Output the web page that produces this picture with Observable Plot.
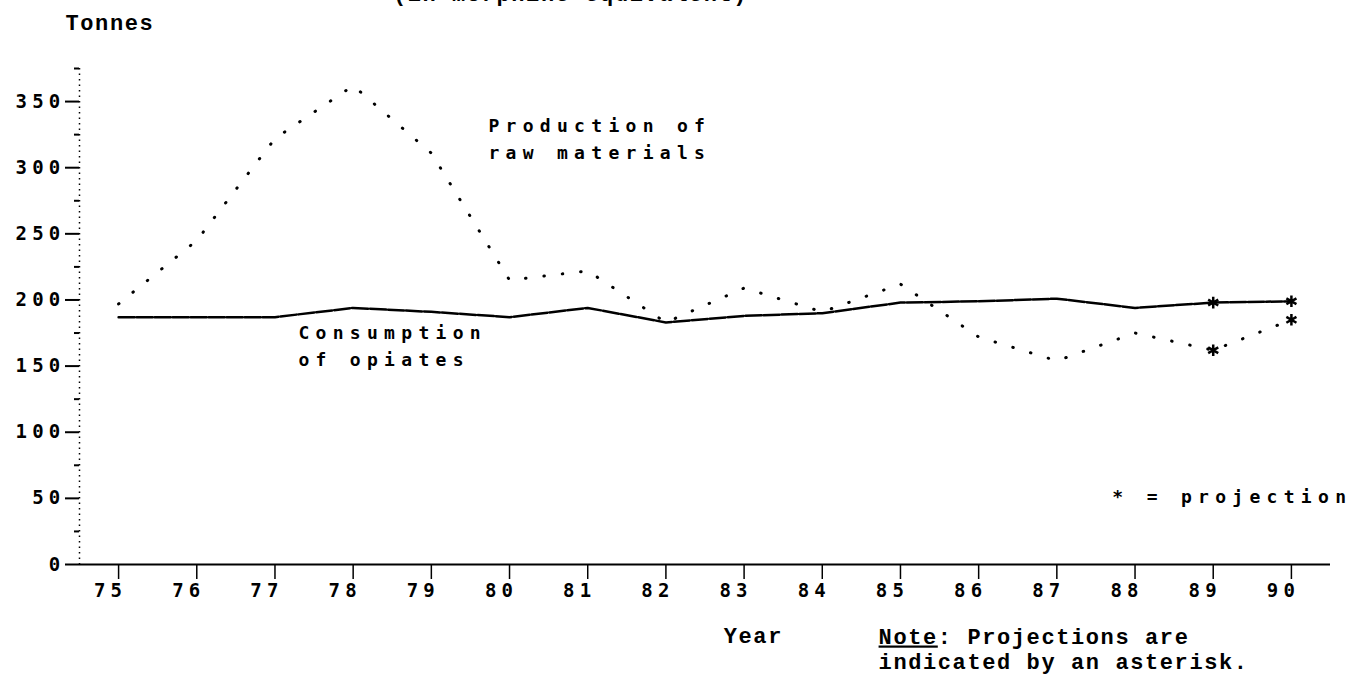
<!DOCTYPE html>
<html>
<head>
<meta charset="utf-8">
<script src="https://cdn.jsdelivr.net/npm/d3@7"></script>
<script src="https://cdn.jsdelivr.net/npm/@observablehq/plot@0.6"></script>
<style>
  body { margin: 0; background: #fff; }
  #chart svg { display: block; }
  g[font-family^="DejaVu Sans Mono"] text { letter-spacing: 5.2px; }
  g[font-family^="DejaVu Sans Mono"][font-size="18"] text { letter-spacing: 6.3px; }
  g[font-family^="Liberation Mono"] text { letter-spacing: 1.6px; }
</style>
</head>
<body>
<div id="chart"></div>
<script>
// Years (19xx)
const years = [75, 76, 77, 78, 79, 80, 81, 82, 83, 84, 85, 86, 87, 88, 89, 90];
// Production of raw materials (tonnes, morphine equivalent)
const production = [197, 245, 322, 362, 311, 215, 222, 183, 209, 191, 212, 172, 154, 175, 162, 185];
// Consumption of opiates (tonnes)
const consumption = [187, 187, 187, 194, 191, 187, 194, 183, 188, 190, 198, 199, 201, 194, 198, 199];
// Projected years (marked by asterisk)
const projectionYears = [89, 90];
// Axis ticks
const yMajorTicks = [0, 50, 100, 150, 200, 250, 300, 350];
const yMinorTicks = [25, 75, 125, 175, 225, 275, 325, 375];
const xTickLabels = years;

const prodRows = years.map((year, i) => ({year, value: production[i]}));
const consRows = years.map((year, i) => ({year, value: consumption[i]}));
const projRows = [
  ...prodRows.filter(d => projectionYears.includes(d.year)),
  ...consRows.filter(d => projectionYears.includes(d.year))
];

const DM = "DejaVu Sans Mono";
const TW = "Liberation Mono";

const chart = Plot.plot({
  width: 1352,
  height: 676,
  marginLeft: 79,
  marginRight: 22,
  marginTop: 68,
  marginBottom: 112,
  x: {domain: [74.5, 90.5], axis: null},
  y: {domain: [0, 375], axis: null},
  style: {background: "white", color: "black", overflow: "visible"},
  marks: [
    // dotted y axis line
    Plot.ruleX([74.5], {strokeDasharray: "1.5,4", strokeWidth: 1.5}),
    Plot.axisY(yMinorTicks, {anchor: "left", tickSize: 5, tickFormat: () => "", strokeWidth: 2, label: null}),
    Plot.axisY(yMajorTicks, {anchor: "left", tickSize: 14, tickPadding: 0, strokeWidth: 2,
      tickFormat: d => String(d), fontFamily: DM, fontSize: 19, fontWeight: "bold", label: null}),
    // baseline
    Plot.ruleY([0], {strokeWidth: 2}),
    Plot.axisX(xTickLabels, {anchor: "bottom", tickSize: 15, tickFormat: () => "", strokeWidth: 1.5, label: null}),
    Plot.axisX(xTickLabels, {anchor: "bottom", tickSize: 0, tickPadding: 19, dx: -8,
      tickFormat: d => String(d), fontFamily: DM, fontSize: 19, fontWeight: "bold", label: null}),
    // series
    Plot.line(prodRows, {x: "year", y: "value", stroke: "black", strokeWidth: 3,
      strokeDasharray: "0.5,18", strokeLinecap: "round"}),
    Plot.line(consRows, {x: "year", y: "value", stroke: "black", strokeWidth: 2.5,
      strokeDasharray: "16,2"}),
    Plot.dot(projRows, {x: "year", y: "value", symbol: "asterisk", r: 5.5, stroke: "black", strokeWidth: 2.5}),
    // annotations inside the frame
    Plot.text(["Production of\nraw materials"], {x: 79.73, y: 323.5, textAnchor: "start",
      lineAnchor: "middle", lineHeight: 1.5, fontFamily: DM, fontSize: 18, fontWeight: "bold"}),
    Plot.text(["Consumption\nof opiates"], {x: 77.3, y: 166.7, textAnchor: "start",
      lineAnchor: "middle", lineHeight: 1.5, fontFamily: DM, fontSize: 18, fontWeight: "bold"}),
    Plot.text(["* = projection"], {x: 87.71, y: 50.6, textAnchor: "start",
      lineAnchor: "middle", fontFamily: DM, fontSize: 18, fontWeight: "bold"}),
    // typewriter texts
    Plot.text(["(in morphine equivalent)"], {x: 80.78, frameAnchor: "top", dy: -68,
      lineAnchor: "bottom", fontFamily: TW, fontSize: 22, fontWeight: "bold"}),
    Plot.text(["Tonnes"], {frameAnchor: "top-left", dx: -14, dy: -46, textAnchor: "start",
      lineAnchor: "middle", fontFamily: TW, fontSize: 22, fontWeight: "bold"}),
    Plot.text(["Year"], {x: 82.74, frameAnchor: "bottom", dy: 71, textAnchor: "start",
      lineAnchor: "middle", fontFamily: TW, fontSize: 22, fontWeight: "bold"}),
    Plot.text(["Note: Projections are\nindicated by an asterisk."], {x: 84.72, frameAnchor: "bottom",
      dy: 83.5, textAnchor: "start", lineAnchor: "middle", lineHeight: 25 / 22, fontFamily: TW,
      fontSize: 22, fontWeight: "bold"})
  ]
});

// underline the word "Note" in the note text
d3.select(chart).selectAll("tspan").each(function () {
  const t = d3.select(this);
  const s = t.text();
  if (s.startsWith("Note:")) {
    t.text("");
    t.append("tspan").attr("text-decoration", "underline").text("Note");
    t.append("tspan").text(s.slice(4));
  }
});

document.getElementById("chart").appendChild(chart);
</script>
</body>
</html>
